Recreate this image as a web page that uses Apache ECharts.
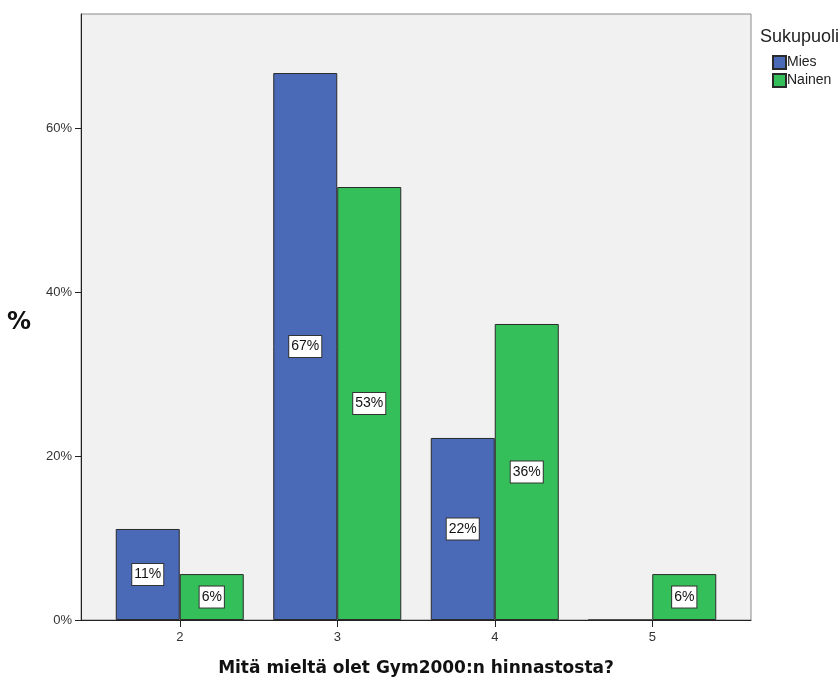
<!DOCTYPE html>
<html>
<head>
<meta charset="utf-8">
<script src="https://cdn.jsdelivr.net/npm/echarts@6/dist/echarts.min.js"></script>
<style>
  html, body { margin: 0; padding: 0; background: #ffffff; }
  #chart { width: 839px; height: 679px; }
</style>
</head>
<body>
<div id="chart"></div>
<script>
// Answer categories on the x axis
const categories = ['2', '3', '4', '5'];
// Share of respondents (%) by gender
const miesValues = [11.1, 66.7, 22.2, 0];
const nainenValues = [5.6, 52.8, 36.1, 5.6];
const seriesNames = ['Mies', 'Nainen'];
const yTicks = [0, 20, 40, 60];

const yMax = 73.9;
const font = '"Liberation Sans", Arial, sans-serif';
const boldFont = '"DejaVu Sans", Verdana, sans-serif';

function toData(values) {
  return values.map(v => ({ value: v, label: { show: v > 0 } }));
}

const labelStyle = {
  show: true,
  position: 'inside',
  formatter: p => Math.round(p.value) + '%',
  color: '#111',
  fontFamily: font,
  fontSize: 14,
  backgroundColor: '#ffffff',
  borderColor: '#333',
  borderWidth: 1,
  padding: [4, 2, 3, 2]
};

const chart = echarts.init(document.getElementById('chart'), null, { renderer: 'canvas' });
chart.setOption({
  animation: false,
  backgroundColor: '#ffffff',
  title: {
    text: 'Sukupuoli',
    left: 755, top: 23,
    textStyle: { fontFamily: font, fontSize: 18, fontWeight: 'normal', color: '#222' }
  },
  legend: {
    data: seriesNames,
    orient: 'vertical',
    left: 767, top: 50,
    itemWidth: 13, itemHeight: 13, itemGap: 3,
    icon: 'rect',
    textStyle: { fontFamily: font, fontSize: 14, lineHeight: 14, color: '#222', padding: [0, 0, 0, -4] }
  },
  grid: [
    { left: 81, top: 14, width: 670, height: 606, show: true, outerBoundsMode: 'none',
      backgroundColor: '#f1f1f1', borderColor: '#8a8a8a', borderWidth: 1 },
    { left: 101, top: 14, width: 630, height: 606, outerBoundsMode: 'none' }
  ],
  xAxis: [
    {
      gridIndex: 0, type: 'value', min: 0, max: 1,
      axisLine: { show: true, lineStyle: { color: '#222', width: 1 } },
      axisTick: { show: false }, axisLabel: { show: false }, splitLine: { show: false },
      name: 'Mitä mieltä olet Gym2000:n hinnastosta?',
      nameLocation: 'middle', nameGap: 40,
      nameTextStyle: { fontFamily: boldFont, fontSize: 17, fontWeight: 'bold', color: '#111' }
    },
    {
      gridIndex: 1, type: 'category', data: categories,
      axisLine: { show: false },
      axisTick: { show: true, alignWithLabel: true, length: 7, lineStyle: { color: '#222' } },
      axisLabel: { margin: 11, fontFamily: font, fontSize: 13, color: '#333' },
      splitLine: { show: false }
    }
  ],
  yAxis: [
    {
      gridIndex: 0, type: 'value', min: 0, max: yMax, interval: 20,
      axisLine: { show: true, lineStyle: { color: '#222', width: 1 } },
      axisTick: { show: true, length: 6, customValues: yTicks, lineStyle: { color: '#222' } },
      axisLabel: {
        fontFamily: font, fontSize: 13, color: '#333', margin: 9,
        customValues: yTicks,
        formatter: v => v + '%'
      },
      splitLine: { show: false },
      name: '%', nameLocation: 'middle', nameGap: 50, nameRotate: 0,
      nameTextStyle: { fontFamily: boldFont, fontSize: 24, fontWeight: 'bold', color: '#111',
        verticalAlign: 'top', lineHeight: 12 }
    },
    {
      gridIndex: 1, type: 'value', min: 0, max: yMax, interval: 20, show: false
    }
  ],
  series: [
    {
      name: seriesNames[0], type: 'bar', xAxisIndex: 1, yAxisIndex: 1,
      data: toData(miesValues),
      barWidth: 64, barGap: '0%',
      itemStyle: { color: '#4a69b7', borderColor: '#2a2a2a', borderWidth: 1 },
      label: labelStyle
    },
    {
      name: seriesNames[1], type: 'bar', xAxisIndex: 1, yAxisIndex: 1,
      data: toData(nainenValues),
      barWidth: 64, barGap: '0%',
      itemStyle: { color: '#34bf5b', borderColor: '#2a2a2a', borderWidth: 1 },
      label: labelStyle
    }
  ]
});
</script>
</body>
</html>
